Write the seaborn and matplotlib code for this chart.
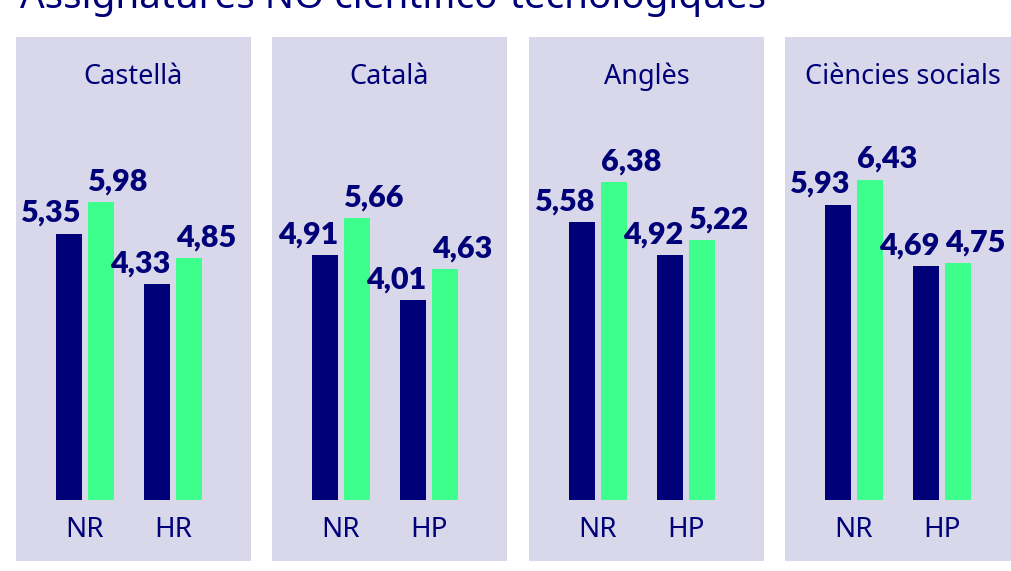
import matplotlib.pyplot as plt
import pandas as pd
import seaborn as sns

# Data
subjects = ['Castellà', 'Català', 'Anglès', 'Ciències socials']
groups = [['NR', 'HR'], ['NR', 'HP'], ['NR', 'HP'], ['NR', 'HP']]
serie_a = [[5.35, 4.33], [4.91, 4.01], [5.58, 4.92], [5.93, 4.69]]
serie_b = [[5.98, 4.85], [5.66, 4.63], [6.38, 5.22], [6.43, 4.75]]
series = ['A', 'B']
title = 'Assignatures NO científico-tecnològiques'

NAVY = '#000078'
GREEN = '#3CFF8C'
PANEL = '#D9D8EA'

sns.set_theme(style='white')
plt.rcParams['font.family'] = ['Noto Sans', 'DejaVu Sans']

W, H = 1012, 571
fig = plt.figure(figsize=(W / 100, H / 100), dpi=100)
fig.patch.set_facecolor('white')

lefts = [16, 272, 529, 785]
pw, ptop, pbot = 235, 37, 561
base = 500
ppu = 49.8  # pixels per unit

for i, subj in enumerate(subjects):
    ax = fig.add_axes([lefts[i] / W, (H - pbot) / H, pw / W, (pbot - ptop) / H])
    ax.set_facecolor(PANEL)
    df = pd.DataFrame({
        'grup': groups[i] * 2,
        'serie': [series[0]] * 2 + [series[1]] * 2,
        'valor': serie_a[i] + serie_b[i],
    })
    sns.barplot(data=df, x='grup', y='valor', hue='serie', order=groups[i],
                hue_order=series, palette=[NAVY, GREEN], width=0.727, gap=0.19,
                saturation=1, legend=False, errorbar=None, linewidth=0, ax=ax)
    ax.set_ylim(-(pbot - base) / ppu, (base - ptop) / ppu)
    ax.set_xlim(-0.784, -0.784 + pw / 88)
    for s in ax.spines.values():
        s.set_visible(False)
    ax.spines['bottom'].set_position(('data', 0))
    ax.set_yticks([])
    ax.tick_params(axis='x', length=0, pad=11.5, labelsize=20, labelcolor=NAVY)
    ax.set_xlabel('')
    ax.set_ylabel('')

    for k, cont in enumerate(ax.containers):
        for bar in cont:
            v = bar.get_height()
            lab = f'{v:.2f}'.replace('.', ',')
            if k == 0:
                x, ha = bar.get_x() + bar.get_width(), 'right'
            else:
                x, ha = bar.get_x(), 'left'
            ax.annotate(lab, (x, v), xytext=(0, 8.6), textcoords='offset points',
                        ha=ha, va='baseline', fontsize=22, fontweight='heavy',
                        family=['Lato', 'Roboto', 'DejaVu Sans'], color=NAVY)

    ax.text(0.5, (pbot - 84) / (pbot - ptop), subj, transform=ax.transAxes,
            ha='center', va='baseline', fontsize=19.5, color=NAVY)

fig.text(20 / W, 1 - 8 / H, title, ha='left', va='baseline', fontsize=27.8,
         color=NAVY)

fig.savefig('out.png', dpi=100)
